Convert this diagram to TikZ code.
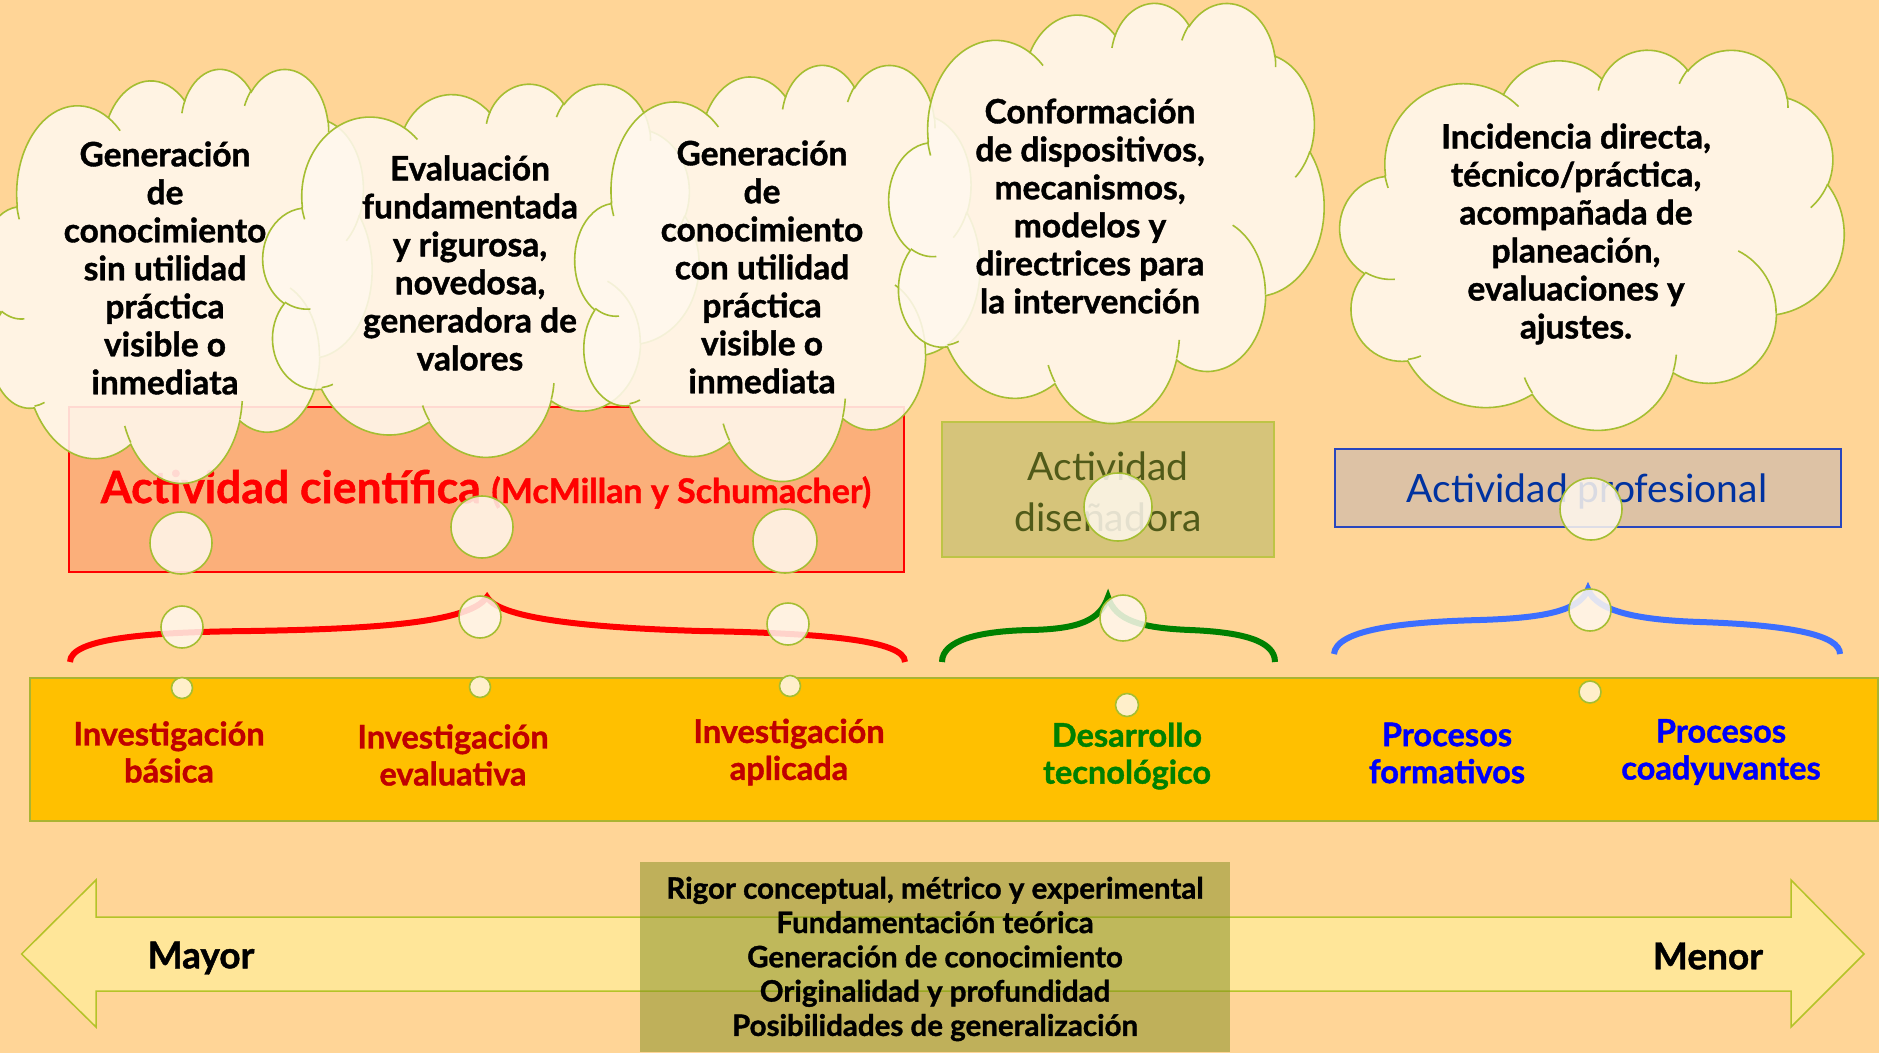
\documentclass[tikz,border=0pt]{standalone}
\usepackage{fontspec}
\setmainfont{Lato}[BoldFeatures={FakeBold=1.2}]
\definecolor{bg}{RGB}{255,213,151}
\definecolor{redfill}{RGB}{251,175,122}
\definecolor{olivefill}{RGB}{214,196,122}
\definecolor{oliveedge}{RGB}{190,196,70}
\definecolor{tanfill}{RGB}{221,194,165}
\definecolor{tanedge}{RGB}{40,70,190}
\definecolor{bandfill}{RGB}{255,192,0}
\definecolor{bandedge}{RGB}{170,180,50}
\definecolor{arrowfill}{RGB}{255,230,153}
\definecolor{arrowedge}{RGB}{180,195,40}
\definecolor{critfill}{RGB}{128,140,30}
\definecolor{cloudfill}{RGB}{255,248,238}
\definecolor{cloudedge}{RGB}{165,190,50}
\definecolor{labred}{RGB}{192,0,0}
\definecolor{labgreen}{RGB}{0,128,0}
\definecolor{labblue}{RGB}{0,0,250}
\definecolor{braceblue}{RGB}{60,110,255}
\definecolor{disentext}{RGB}{80,90,25}
\definecolor{proftext}{RGB}{0,50,160}
\newcommand\pptcloud[4]{%
 \pgfmathsetmacro\cldsx{#3/432}%
 \pgfmathsetmacro\cldsy{#4/432}%
 \begin{scope}[shift={(#1,#2)}, x=\cldsx pt, y=-\cldsy pt]
  \path[cloudbody] (39.00,143.70)
   arc[ooarc={67.53}{91.90}{-190.4875}{123.7805}]
   arc[ooarc={53.33}{72.67}{-144.1024}{89.9452}]
   arc[ooarc={43.65}{59.45}{-145.8079}{99.7230}]
   arc[ooarc={48.57}{65.95}{-130.9861}{117.2417}]
   arc[ooarc={53.33}{72.73}{-78.7089}{109.0269}]
   arc[ooarc={67.75}{92.20}{-46.2673}{130.2690}]
   arc[ooarc={57.85}{78.67}{0.6250}{114.0333}]
   arc[ooarc={67.52}{92.15}{22.4516}{115.1726}]
   arc[ooarc={77.20}{105.43}{66.2426}{75.7110}]
   arc[ooarc={43.60}{59.18}{-274.9421}{146.7356}]
   arc[ooarc={43.45}{59.45}{-246.8285}{152.5189}]
   -- cycle;
  \path[cloudinner]
   (46.93,261.77) arc[ooarc={43.45}{59.45}{86.7420}{26.4295}]
   (69.28,348.99) arc[ooarc={43.60}{59.18}{73.6105}{11.4475}]
   (164.78,390.90) arc[ooarc={67.52}{92.15}{137.6242}{14.0811}]
   (288.27,347.51) arc[ooarc={67.52}{92.15}{6.4533}{15.9984}]
   (341.29,229.54) arc[ooarc={57.85}{78.67}{-70.2924}{70.9174}]
   (417.98,153.54) arc[ooarc={53.33}{72.73}{30.3180}{27.7515}]
   (383.24,54.26) arc[ooarc={48.57}{65.95}{-13.7443}{14.8589}]
   (290.78,39.52) arc[ooarc={48.57}{65.95}{-149.1815}{18.1954}]
   (221.41,47.20) arc[ooarc={43.65}{59.45}{-163.4943}{17.6864}]
   (140.00,51.92) arc[ooarc={67.53}{91.90}{-66.7070}{12.3194}]
   (41.27,157.89) arc[ooarc={67.53}{91.90}{154.1385}{11.8548}];
 \end{scope}}
\begin{document}
\begin{tikzpicture}[x=1pt,y=-1pt,
  declare function={pa(\rw,\rh,\ang)=atan2(\rw*sin(\ang),\rh*cos(\ang));},
  ooarc/.style n args={4}{x radius=#1, y radius=#2, start angle={pa(#1,#2,#3)},
    delta angle={mod(pa(#1,#2,(#3)+(#4))-pa(#1,#2,#3)+720,360)}},
  cloudbody/.style={fill=cloudfill, fill opacity=0.88, draw=cloudedge, line width=1.6pt},
  cloudinner/.style={draw=cloudedge, line width=1.6pt},
  bubble/.style={fill=cloudfill, fill opacity=0.85, draw=cloudedge, line width=1.6pt},
  cloudtext/.style={align=center, text=black, font=\fontsize{33.5}{38}\selectfont\bfseries},
  bandlabel/.style={align=center, font=\fontsize{32.5}{37}\selectfont\bfseries},
  bracepen/.style={line width=6pt},
  boxstyle/.style={inner sep=0pt, outer sep=0pt}
]
\useasboundingbox (0,0) rectangle (1879,1053);
\fill[bg] (0,0) rectangle (1879,1053);

% double arrow
\path[fill=arrowfill, draw=arrowedge, line width=1.5pt]
  (21.6,954) -- (96,880) -- (96,917) -- (1791,917) -- (1791,880) -- (1864,954)
  -- (1791,1027) -- (1791,991) -- (96,991) -- (96,1027) -- cycle;
\node[boxstyle, fill=critfill, fill opacity=0.5, minimum width=590pt, minimum height=190pt] (critbox) at (935,957) {};
\node[align=center, font=\fontsize{29.5}{34.3}\selectfont\bfseries] (crittext) at (935,959)
  {Rigor conceptual, métrico y experimental\\Fundamentación teórica\\Generación de conocimiento\\Originalidad y profundidad\\Posibilidades de generalización};
\node[font=\fontsize{37}{44}\selectfont\bfseries] (mayor) at (201,958) {Mayor};
\node[font=\fontsize{37}{44}\selectfont\bfseries] (menor) at (1708,956) {Menor};

% band
\node[boxstyle, fill=bandfill, draw=bandedge, line width=1.2pt, minimum width=1848pt, minimum height=143pt] (band) at (954,749.5) {};
\node[bandlabel, text=labred] (basica) at (169,752) {Investigación\\básica};
\node[bandlabel, text=labred] (evalua) at (453,755) {Investigación\\evaluativa};
\node[bandlabel, text=labred] (aplica) at (789,752) {Investigación\\aplicada};
\node[bandlabel, text=labgreen] (desarr) at (1127,756) {Desarrollo\\tecnológico};
\node[bandlabel, text=labblue] (format) at (1447,753) {Procesos\\formativos};
\node[bandlabel, text=labblue] (coady) at (1721,752) {Procesos\\coadyuvantes};

% braces
\draw[bracepen, red] (70,662) .. controls (70,638) and (150,632) .. (250,631)
  .. controls (380,629) and (470,622) .. (487,597)
  .. controls (500,620) and (600,628) .. (700,631)
  .. controls (820,633) and (905,640) .. (905,662);
\draw[bracepen, labgreen] (942,662) .. controls (942,640) and (980,631) .. (1030,630)
  .. controls (1080,629) and (1100,620) .. (1108,597)
  .. controls (1115,620) and (1140,628) .. (1190,630)
  .. controls (1240,632) and (1275,640) .. (1275,662);
\draw[bracepen, braceblue] (1334,654) .. controls (1336,630) and (1400,622) .. (1480,620)
  .. controls (1540,618) and (1580,612) .. (1588,589)
  .. controls (1596,612) and (1640,620) .. (1700,622)
  .. controls (1790,625) and (1840,635) .. (1840,654);

% activity boxes
\node[boxstyle, fill=redfill, draw=red, line width=1.5pt, minimum width=835pt, minimum height=165pt] (cientbox) at (486.5,489.5) {};
\node[anchor=base, text=red, font=\bfseries, inner sep=0pt] (cienttext) at (486,503)
  {\fontsize{44.5}{50}\selectfont Actividad científica \fontsize{34}{40}\selectfont(McMillan y Schumacher)};
\node[boxstyle, fill=olivefill, draw=oliveedge, line width=1.5pt, minimum width=332pt, minimum height=135pt] (disenbox) at (1108,489.5) {};
\node[align=center, text=disentext, font=\fontsize{39}{51}\selectfont] (disentxt) at (1108,492) {Actividad\\diseñadora};
\node[boxstyle, fill=tanfill, draw=tanedge, line width=1.5pt, minimum width=506pt, minimum height=78pt] (profbox) at (1588,488) {};
\node[anchor=base, text=proftext, font=\fontsize{39}{46}\selectfont, inner sep=0pt] (proftxt) at (1587,502) {Actividad profesional};

% clouds with bubbles
\pptcloud{-18}{68}{390}{414}
\path[bubble] (181,543) circle[radius=31pt];
\path[bubble] (182,627) circle[radius=21pt];
\path[bubble] (182,688) circle[radius=10.5pt];
\pptcloud{263}{83}{436}{373}
\path[bubble] (482,527) circle[radius=31pt];
\path[bubble] (480,617) circle[radius=21pt];
\path[bubble] (480,687) circle[radius=10.5pt];
\pptcloud{575}{64}{405}{416}
\path[bubble] (785,541) circle[radius=32pt];
\path[bubble] (788,624) circle[radius=21pt];
\path[bubble] (790,686) circle[radius=10.5pt];
\pptcloud{889}{2}{435}{420}
\path[bubble] (1118,507) circle[radius=34pt];
\path[bubble] (1123,618) circle[radius=23pt];
\path[bubble] (1127,705) circle[radius=11.5pt];
\pptcloud{1340}{49}{504}{380}
\path[bubble] (1591,509) circle[radius=31pt];
\path[bubble] (1590,610) circle[radius=21pt];
\path[bubble] (1590,692) circle[radius=11pt];

% cloud texts
\node[cloudtext] (c1) at (165,268) {Generación\\de\\conocimiento\\sin utilidad\\práctica\\visible o\\inmediata};
\node[cloudtext] (c2) at (470,263) {Evaluación\\fundamentada\\y rigurosa,\\novedosa,\\generadora de\\valores};
\node[cloudtext] (c3) at (762,267) {Generación\\de\\conocimiento\\con utilidad\\práctica\\visible o\\inmediata};
\node[cloudtext] (c4) at (1090,206) {Conformación\\de dispositivos,\\mecanismos,\\modelos y\\directrices para\\la intervención};
\node[cloudtext] (c5) at (1576,234) {Incidencia directa,\\técnico/práctica,\\acompañada de\\planeación,\\evaluaciones y\\ajustes.};
\end{tikzpicture}
\end{document}
